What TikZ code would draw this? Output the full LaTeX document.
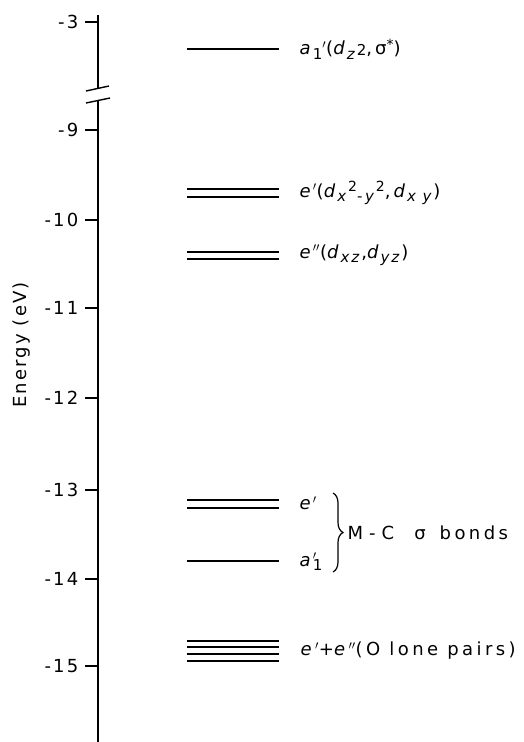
\documentclass[tikz,border=0pt]{standalone}
\usepackage{fontspec}
\setmainfont{DejaVu Sans}[LetterSpace=12]
\usetikzlibrary{decorations.pathreplacing}

\newcommand{\lowtxt}[1]{\raisebox{-0.45ex}{\fontsize{15}{15}\selectfont #1}}
\newcommand{\hightxt}[1]{\raisebox{0.55ex}{\fontsize{14}{14}\selectfont #1}}

\tikzset{
	level/.style={line width=1.5pt},
	ticklabel/.style={anchor=east, inner sep=0pt, font=\fontsize{18}{20}\selectfont},
	orblabel/.style={anchor=west, inner sep=0pt, font=\fontsize{18}{20}\selectfont},
	widelabel/.style={orblabel, font=\fontsize{18}{20}\selectfont\addfontfeature{LetterSpace=19}},
}

\begin{document}
\begin{tikzpicture}[x=1pt, y=-1pt, line width=1.4pt]
		\useasboundingbox (0,0) rectangle (524,742);
		% energy axis with break
		\draw (98,15) -- (98,89);
		\draw (98,101) -- (98,742);
		\draw (86,91) -- (109,86);
		\draw (86,103) -- (110,98);
		\draw (85,22) -- (98,22);
		\draw (85,130) -- (98,130);
		\draw (85,220) -- (98,220);
		\draw (85,308) -- (98,308);
		\draw (85,398) -- (98,398);
		\draw (85,490) -- (98,490);
		\draw (85,579) -- (98,579);
		\draw (85,666) -- (98,666);
		\node [ticklabel] (t3) at (79,22) {-3};
		\node [ticklabel] (t9) at (79,130) {-9};
		\node [ticklabel] (t10) at (79,220) {-10};
		\node [ticklabel] (t11) at (79,308) {-11};
		\node [ticklabel] (t12) at (79,398) {-12};
		\node [ticklabel] (t13) at (79,490) {-13};
		\node [ticklabel] (t14) at (79,579) {-14};
		\node [ticklabel] (t15) at (79,666) {-15};
		\node [rotate=90, font=\fontsize{18}{20}\selectfont] (elab) at (22,345) {Energy (eV)};
		% levels
		\draw[level] (187,49) -- (279,49);
		\draw[level] (187,189) -- (279,189);
		\draw[level] (187,197) -- (279,197);
		\draw[level] (187,252) -- (279,252);
		\draw[level] (187,259) -- (279,259);
		\draw[level] (187,500) -- (279,500);
		\draw[level] (187,508) -- (279,508);
		\draw[level] (187,561) -- (279,561);
		\draw[level] (187,641) -- (279,641);
		\draw[level] (187,647) -- (279,647);
		\draw[level] (187,654) -- (279,654);
		\draw[level] (187,661) -- (279,661);
		\node [orblabel] (astar) at (299,49) {\textit{a}\lowtxt{1}$'$(\textit{d}\lowtxt{\textit{z}}\raisebox{-0.1ex}{\fontsize{15}{15}\selectfont 2},\,σ\hightxt{*})};
		\node [orblabel] (edxy) at (299,193) {\textit{e}$'$(\textit{d}\lowtxt{\textit{x}}\hightxt{2}\lowtxt{-\,\textit{y}}\hightxt{2},\,\textit{d}\lowtxt{\textit{x y}})};
		\node [orblabel] (edxz) at (299,255) {\textit{e}$''$(\textit{d}\lowtxt{\textit{xz}},\textit{d}\lowtxt{\textit{yz}})};
		\node [orblabel] (esig) at (299,503) {\textit{e}$'$};
		\node [orblabel] (asig) at (299,562) {\textit{a}\rlap{\lowtxt{1}}$'$};
		\node [widelabel] (lone) at (300,651) {\textit{e}$'$+\textit{e}$''$(O lone pairs)};
		% sigma bond brace
		\coordinate (btop) at (333,493);
		\coordinate (bbot) at (333,572);
		\draw[line width=1.2pt, decorate, decoration={brace, amplitude=10pt}] (btop) -- (bbot);
		\node [widelabel] (mc) at (347,533) {M\hspace{6pt}-\hspace{6pt}C\hspace{20pt}σ\hspace{14pt}bonds};
	\end{tikzpicture}
\end{document}
